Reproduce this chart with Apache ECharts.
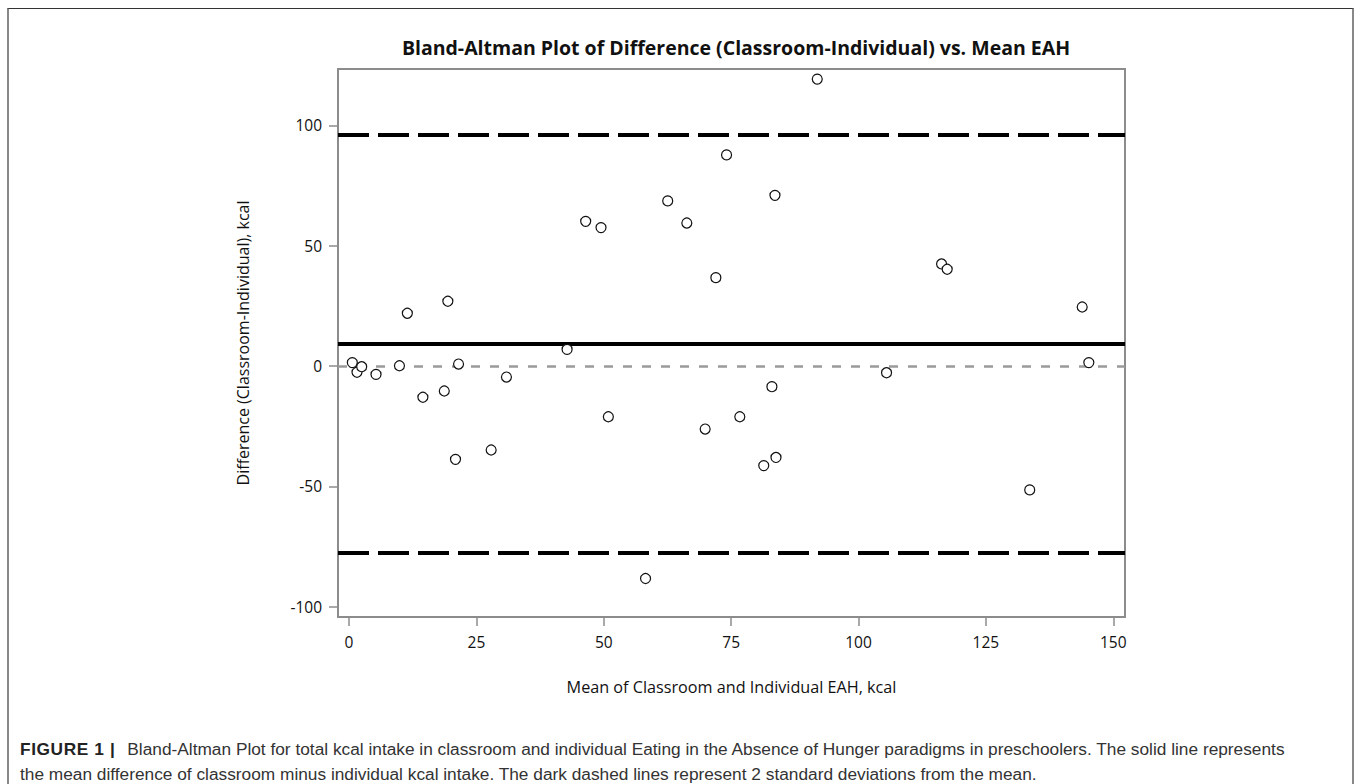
<!DOCTYPE html>
<html>
<head>
<meta charset="utf-8">
<script src="https://cdn.jsdelivr.net/npm/echarts@6/dist/echarts.min.js"></script>
<style>
  html, body { margin: 0; padding: 0; background: #fff; }
  #wrap { position: relative; width: 1360px; height: 784px; overflow: hidden; background: #fff; }
  #frame { position: absolute; left: 7px; top: 8px; width: 1347px; height: 800px;
           border-top: 1.5px solid #333; border-left: 2px solid #888; border-right: 2px solid #888; box-sizing: border-box; }
  #chart { position: absolute; left: 0; top: 0; width: 1360px; height: 730px; }
  #caption { position: absolute; left: 20px; top: 737px; width: 1325px; white-space: nowrap;
             font-family: "Liberation Sans", Arial, sans-serif; font-size: 17.3px; line-height: 25px; color: #333; }
  #caption .lbl { font-weight: bold; color: #222; margin-right: 12px; letter-spacing: 0.6px; }
</style>
</head>
<body>
<div id="wrap">
  <div id="frame"></div>
  <div id="chart"></div>
  <div id="caption"><span class="lbl">FIGURE 1 |</span><span>Bland-Altman Plot for total kcal intake in classroom and individual Eating in the Absence of Hunger paradigms in preschoolers. The solid line represents</span><br><span>the mean difference of classroom minus individual kcal intake. The dark dashed lines represent 2 standard deviations from the mean.</span></div>
</div>
<script>
// Mean of classroom and individual EAH (kcal)
const meanValues = [0.65, 1.57, 2.49, 5.3, 9.9, 11.45, 14.5, 18.7, 19.4, 20.9, 21.5, 27.9, 30.9, 42.8, 46.45, 49.46, 50.9, 58.2, 62.55, 66.3, 69.9, 72.0, 74.1, 76.7, 81.4, 83.0, 83.6, 83.8, 91.9, 105.5, 116.3, 117.4, 133.6, 143.9, 145.2];
// Difference (classroom - individual), kcal
const diffValues = [1.4, -2.6, -0.3, -3.5, 0.1, 21.9, -13.0, -10.4, 26.9, -38.8, 0.8, -34.9, -4.6, 6.9, 60.1, 57.5, -21.1, -88.3, 68.6, 59.4, -26.2, 36.7, 87.7, -21.1, -41.4, -8.6, 70.9, -38.0, 119.2, -2.8, 42.4, 40.2, -51.5, 24.5, 1.4];
// Reference lines
const meanDiff = 9.3;
const upperLimit = 96.1;
const lowerLimit = -77.5;
const zeroLine = 0;
// Tick labels
const xTicks = [0, 25, 50, 75, 100, 125, 150];
const yTicks = [-100, -50, 0, 50, 100];
const xRange = [-2.16, 152.3];
const yRange = [-104.3, 123.4];

const points = meanValues.map((x, i) => [x, diffValues[i]]);

const chart = echarts.init(document.getElementById('chart'), null, { renderer: 'svg' });
const axisGray = '#8c8c8c';
const font = '"Open Sans", "DejaVu Sans", sans-serif';

chart.setOption({
  animation: false,
  title: {
    text: 'Bland-Altman Plot of Difference (Classroom-Individual) vs. Mean EAH',
    left: 731, top: 32, textAlign: 'center',
    textStyle: { fontFamily: font, fontWeight: 'bold', fontSize: 19.5, color: '#111' }
  },
  grid: { left: 338, top: 69, width: 787, height: 548, show: true, borderColor: axisGray, borderWidth: 2, backgroundColor: 'transparent' },
  xAxis: {
    type: 'value', min: xRange[0], max: xRange[1],
    name: 'Mean of Classroom and Individual EAH, kcal',
    nameLocation: 'middle', nameGap: 62,
    nameTextStyle: { fontFamily: font, fontSize: 16.2, color: '#111' },
    axisLine: { show: true, onZero: false, lineStyle: { color: axisGray, width: 2 } },
    axisTick: { show: true, length: 9, customValues: xTicks, lineStyle: { color: axisGray, width: 1.5 } },
    axisLabel: { customValues: xTicks, margin: 17, fontFamily: font, fontSize: 15.5, color: '#111' },
    splitLine: { show: false }
  },
  yAxis: {
    type: 'value', min: yRange[0], max: yRange[1],
    name: 'Difference (Classroom-Individual), kcal',
    nameLocation: 'middle', nameGap: 87,
    nameTextStyle: { fontFamily: font, fontSize: 16, color: '#111' },
    axisLine: { show: true, onZero: false, lineStyle: { color: axisGray, width: 2 } },
    axisTick: { show: true, length: 9, customValues: yTicks, lineStyle: { color: axisGray, width: 1.5 } },
    axisLabel: { customValues: yTicks, margin: 16, fontFamily: font, fontSize: 15.5, color: '#111' },
    splitLine: { show: false }
  },
  series: [{
    type: 'scatter',
    data: points,
    symbol: 'circle',
    symbolSize: 10,
    itemStyle: { color: '#fff', borderColor: '#111', borderWidth: 1.2, opacity: 1 },
    z: 5,
    markLine: {
      silent: true, symbol: 'none', label: { show: false }, animation: false,
      data: [
        { yAxis: zeroLine, lineStyle: { color: '#9a9a9a', width: 2.5, type: [9, 10] } },
        { yAxis: meanDiff, lineStyle: { color: '#000', width: 4, type: 'solid' } },
        { yAxis: upperLimit, lineStyle: { color: '#000', width: 4, type: [31, 9] } },
        { yAxis: lowerLimit, lineStyle: { color: '#000', width: 4, type: [31, 9] } }
      ]
    }
  }]
});
</script>
</body>
</html>
